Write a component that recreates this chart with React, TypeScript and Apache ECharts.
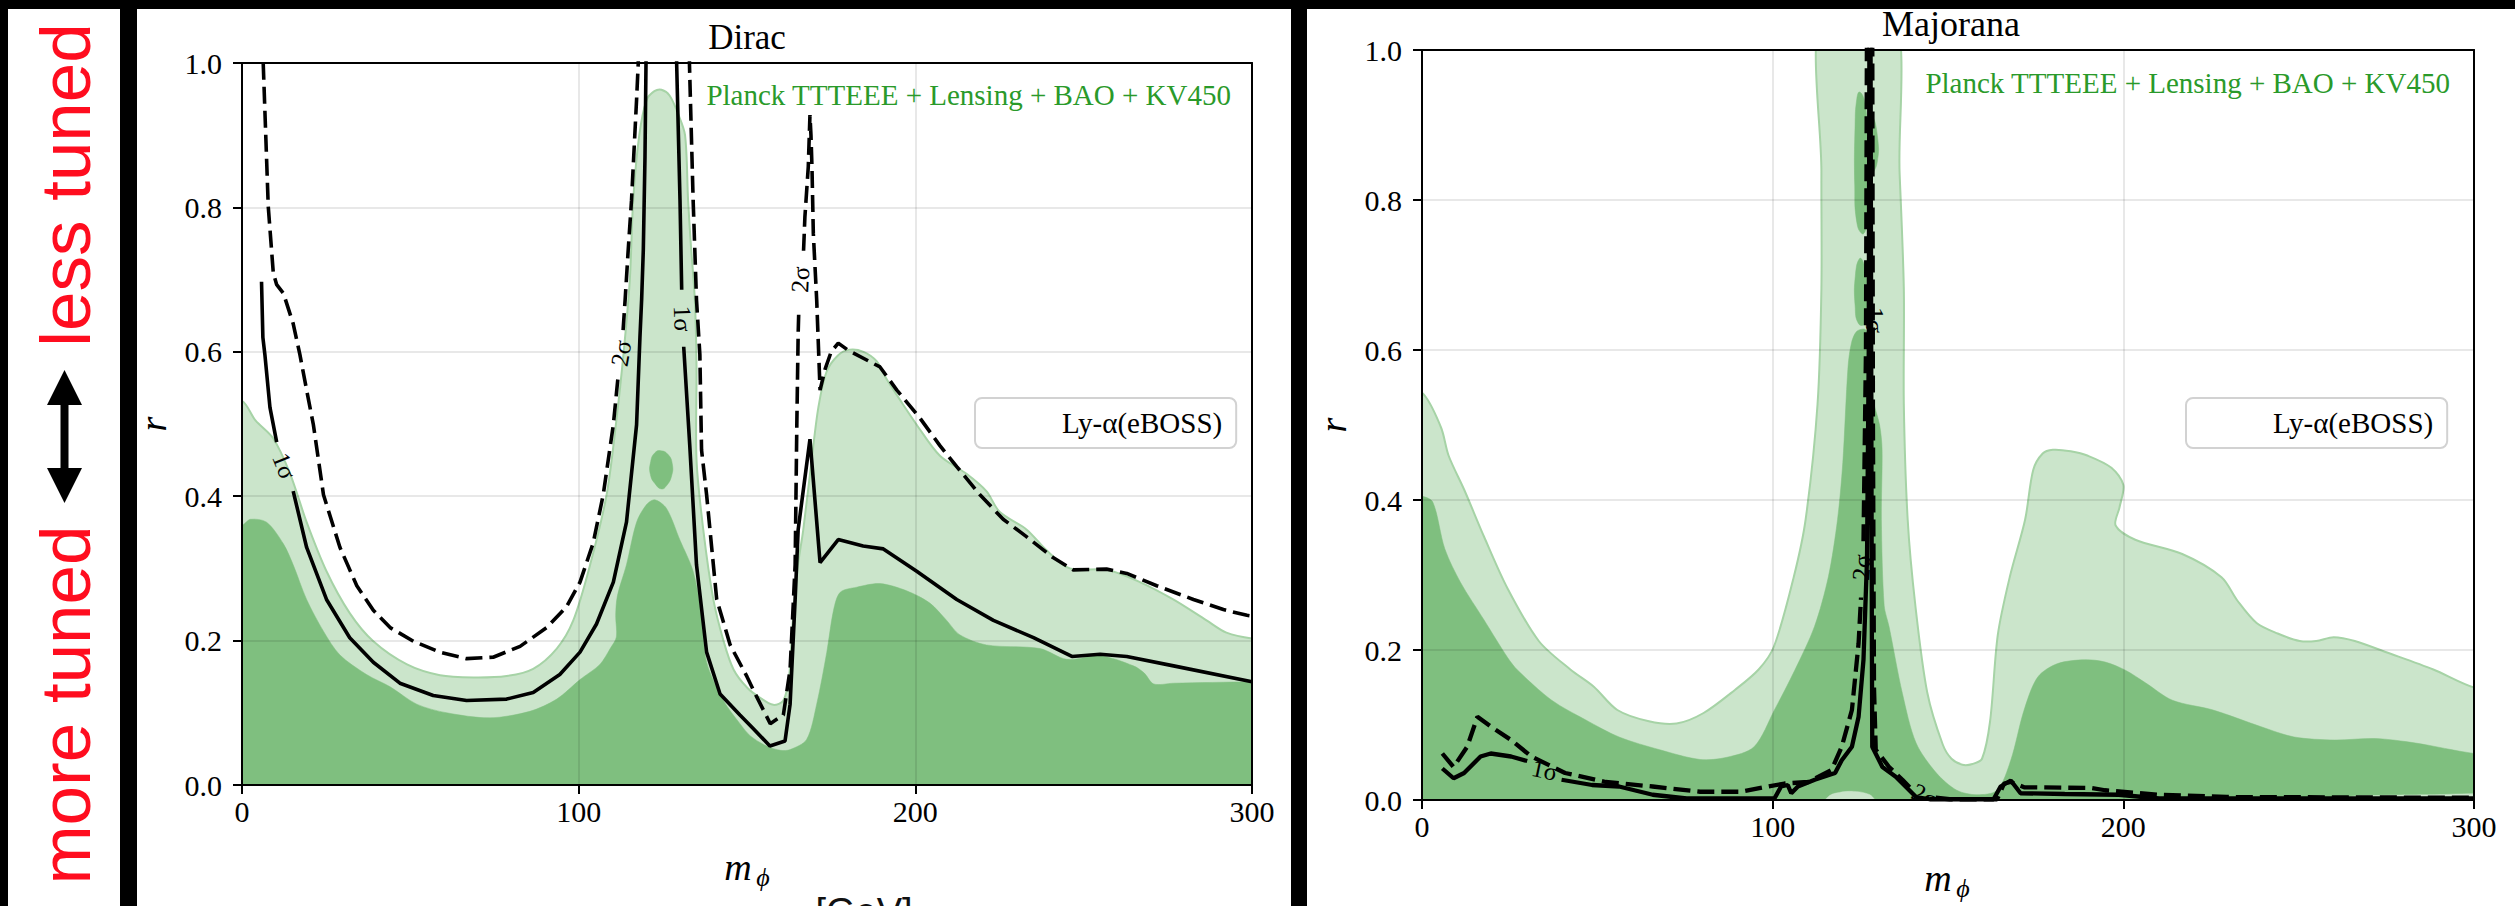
import { useEffect, useRef } from 'react';
import * as echarts from 'echarts';

const SERIF = 'Liberation Serif, DejaVu Serif, serif';
const SANS = 'Liberation Sans, Arial, sans-serif';
const LYA = 'Ly-α(eBOSS)';
const PLANCK = 'Planck TTTEEE + Lensing + BAO + KV450';

type Pt = [number, number];

// axis ranges
const massRange = { min: 0, max: 300, step: 100 };
const ratioRange = { min: 0, max: 1, step: 0.2 };

// ---------- Dirac: Planck contours (upper edges of the filled regions) ----------
const diracPlanck2sEdge: Pt[] = [
  [0, 0.532], [4, 0.505], [9.3, 0.48], [14.3, 0.431], [19.2, 0.364], [25.1, 0.296], [32, 0.238],
  [39, 0.199], [49, 0.167], [58.8, 0.152], [68.7, 0.149], [78.6, 0.151], [86.5, 0.161], [93.5, 0.189],
  [98.4, 0.228], [103.4, 0.305], [108.3, 0.402], [111.3, 0.509], [113.3, 0.596], [115.2, 0.7],
  [116.2, 0.81], [118, 0.9], [120.2, 0.949], [122.5, 0.961], [124.6, 0.963], [127, 0.955],
  [129.5, 0.93], [131.6, 0.9], [132.5, 0.81], [133.3, 0.75], [134.5, 0.672], [135, 0.58],
  [135, 0.451], [137, 0.354], [140, 0.257], [143, 0.2], [146, 0.16], [150, 0.135], [153.8, 0.121],
  [157.8, 0.111], [160.8, 0.117], [162.5, 0.15], [163.5, 0.22], [165, 0.3], [166.7, 0.353],
  [169.2, 0.45], [171.2, 0.523], [173.6, 0.572], [177, 0.595], [180.5, 0.603], [184.6, 0.6],
  [188.5, 0.587], [191.5, 0.562], [195.5, 0.533], [200.4, 0.499], [207.3, 0.456], [215.2, 0.431],
  [221.1, 0.407], [225.1, 0.378], [233, 0.354], [239, 0.325], [245.9, 0.3], [256.8, 0.298],
  [266.7, 0.281], [276.6, 0.257], [286.5, 0.228], [292.4, 0.211], [300, 0.203],
];
const diracPlanck1sEdge: Pt[] = [
  [0, 0.36], [2.5, 0.368], [7.3, 0.364], [12.3, 0.334], [15.2, 0.305], [19.2, 0.257], [24.2, 0.213],
  [29.1, 0.18], [37, 0.153], [44, 0.136], [51.9, 0.112], [60.8, 0.1], [73.7, 0.093], [85.5, 0.102],
  [93.5, 0.119], [100.4, 0.146], [106.3, 0.167], [109.5, 0.19], [111.2, 0.205], [111, 0.235],
  [111.5, 0.262], [114.2, 0.305], [117.2, 0.364], [120.1, 0.388], [122.6, 0.395], [126.1, 0.383],
  [130.1, 0.339], [134, 0.296], [136.5, 0.233], [138, 0.17], [143, 0.117], [147.9, 0.085],
  [151, 0.068], [155.8, 0.054], [160, 0.048], [162.8, 0.049], [167.7, 0.063], [170.7, 0.112],
  [173.7, 0.184], [175.7, 0.242], [177.7, 0.267], [182.6, 0.274], [189.5, 0.279], [197.4, 0.269],
  [204.3, 0.252], [209.3, 0.228], [213.2, 0.208], [221.1, 0.194], [237, 0.189], [245, 0.174],
  [254.9, 0.179], [264.8, 0.165], [268, 0.155], [270.8, 0.14], [276.7, 0.141], [300, 0.143],
];
const diracPlanck1sIsland: Pt[] = [
  [124.4, 0.463], [126.5, 0.458], [127.8, 0.445], [127.6, 0.428], [126, 0.414], [124.6, 0.41],
  [122.9, 0.416], [121.3, 0.43], [121.4, 0.448], [122.6, 0.46],
];

// ---------- Dirac: Ly-α contours (split where the inline labels sit) ----------
const diracLya1s: Pt[][] = [
  [[5.8, 0.697], [6.2, 0.62], [6.8, 0.596], [8.3, 0.523], [10.3, 0.475]],
  [[15.2, 0.407], [19.2, 0.329], [25.1, 0.257], [32, 0.204], [39, 0.17], [46.9, 0.141], [56.8, 0.124],
   [66.7, 0.117], [78.6, 0.119], [86.5, 0.128], [94.4, 0.153], [100.4, 0.184], [105.3, 0.223],
   [110.3, 0.281], [114.2, 0.364], [117.2, 0.499], [118.2, 0.62], [118.7, 0.672], [119.2, 0.741],
   [119.7, 0.87], [120, 1.0], [120.2, 1.1], [129, 1.1], [129.1, 1.0], [130.1, 0.81], [130.6, 0.686]],
  [[131.2, 0.607], [133, 0.47], [135, 0.305], [138, 0.184], [142, 0.126], [147.9, 0.097],
   [151.9, 0.078], [156.8, 0.054], [161.3, 0.061], [162.8, 0.112], [164.3, 0.257], [165.2, 0.354],
   [168.7, 0.479], [171.7, 0.308], [177.1, 0.34], [184.5, 0.331], [190.5, 0.327], [200.4, 0.296],
   [212.3, 0.257], [223.2, 0.228], [235.1, 0.204], [246.5, 0.178], [254.9, 0.181], [262.8, 0.178],
   [276.7, 0.165], [300, 0.143]],
];
const diracLya2s: Pt[][] = [
  [[6.3, 1.1], [6.3, 1.0], [7.8, 0.801], [9.3, 0.709], [10.3, 0.693], [12.3, 0.681], [15.2, 0.639],
   [17.2, 0.596], [19.2, 0.547], [21.2, 0.499], [24.2, 0.402], [29.1, 0.329], [34.1, 0.276],
   [39, 0.242], [44, 0.218], [50.9, 0.199], [58.8, 0.184], [66.7, 0.175], [74.6, 0.177],
   [82.6, 0.192], [90.5, 0.218], [96.4, 0.247], [100.4, 0.281], [104.3, 0.335], [107.3, 0.402],
   [110.3, 0.499], [111.8, 0.57]],
  [[113.2, 0.63], [113.8, 0.672], [114.7, 0.74], [115.7, 0.81], [117.2, 0.949], [117.7, 1.0],
   [117.8, 1.1], [133, 1.1], [132.9, 1.0], [134, 0.81], [135, 0.672], [136, 0.596], [136.5, 0.464],
   [138, 0.402], [141, 0.257], [145, 0.194], [150, 0.15], [152.9, 0.122], [156.9, 0.085],
   [160.8, 0.097], [162.8, 0.16], [164.3, 0.305], [164.8, 0.499], [165.2, 0.626], [165.4, 0.66]],
  [[166.8, 0.74], [167.2, 0.787], [168.2, 0.856], [168.7, 0.928], [169, 0.9], [169.3, 0.856],
   [169.7, 0.764], [170.7, 0.672], [171.7, 0.547], [173.2, 0.576], [175, 0.6], [177.1, 0.612],
   [180.1, 0.602], [189.5, 0.579], [194.5, 0.547], [201.4, 0.508], [207.3, 0.47], [212.3, 0.441],
   [219.2, 0.402], [226.1, 0.368], [233, 0.344], [240.9, 0.315], [246.9, 0.298], [256.8, 0.299],
   [262.8, 0.293], [271.7, 0.276], [282.6, 0.257], [291.5, 0.243], [298.5, 0.235], [300, 0.234]],
];
// [m, r, text, rotation in degrees]
const diracLabels: [number, number, string, number][] = [
  [12.6, 0.442, '1σ', -68],
  [112.6, 0.598, '2σ', 80],
  [130.9, 0.646, '1σ', -88],
  [165.8, 0.70, '2σ', 87],
];

// ---------- Majorana: Planck contours ----------
const majPlanck2sEdge: Pt[] = [
  [0, 0.543], [5.4, 0.497], [7.6, 0.459], [12.1, 0.413], [17.7, 0.351], [24.4, 0.282], [33.3, 0.212],
  [42.3, 0.174], [49, 0.151], [55.7, 0.12], [64.7, 0.105], [72.6, 0.102], [80.3, 0.116], [89.3, 0.147],
  [96, 0.174], [100.4, 0.205], [106, 0.297], [109.4, 0.374], [112.8, 0.528], [113.9, 0.682],
  [113.9, 0.836], [114.3, 1.06], [134.2, 1.06], [136.2, 0.836], [137.4, 0.682], [137.4, 0.528],
  [138.5, 0.374], [140.7, 0.259], [144.1, 0.143], [148.5, 0.074], [151, 0.055], [154.1, 0.047],
  [157, 0.048], [159.7, 0.055], [162, 0.105], [164.2, 0.22], [167.6, 0.297], [172, 0.374],
  [174.3, 0.44], [177, 0.462], [179.9, 0.467], [185, 0.465], [189.9, 0.459], [196.6, 0.443],
  [200, 0.42], [198.9, 0.39], [197.8, 0.366], [203.4, 0.347], [216.8, 0.328], [228, 0.297],
  [232.5, 0.266], [238, 0.236], [244, 0.222], [250.3, 0.212], [255, 0.212], [260, 0.217],
  [266, 0.212], [275, 0.197], [288.4, 0.174], [300, 0.15],
];
const majPlanck1sEdge: Pt[] = [
  [0, 0.405], [3.1, 0.397], [6.5, 0.335], [11, 0.29], [17.7, 0.24], [24.4, 0.19], [27.3, 0.173],
  [37, 0.133], [46.6, 0.107], [56.2, 0.084], [67.8, 0.067], [79.3, 0.054], [87, 0.057], [94.7, 0.071],
  [100.5, 0.12], [106.3, 0.173], [111.9, 0.231], [115.9, 0.298], [118.5, 0.374], [120, 0.45],
  [121.5, 0.578], [122.5, 0.61], [124, 0.625], [126.5, 0.627], [127.8, 0.6], [128.6, 0.535],
  [130.5, 0.5], [131.2, 0.467], [131, 0.374], [131.8, 0.259], [133.2, 0.231], [137, 0.142],
  [140.9, 0.076], [146.7, 0.036], [152.5, 0.013], [158.2, 0.007], [164, 0.013], [167.9, 0.053],
  [171.7, 0.12], [175.6, 0.164], [181.3, 0.182], [189, 0.187], [194.8, 0.184], [200.6, 0.173],
  [206.4, 0.156], [214, 0.133], [225.6, 0.12], [239.1, 0.098], [248.7, 0.084], [260.3, 0.08],
  [271.8, 0.082], [283.3, 0.076], [300, 0.062],
];
const majPlanck1sIslandHigh: Pt[] = [
  [124.8, 0.944], [126.3, 0.93], [127.5, 0.88], [128.5, 0.91], [130, 0.88], [129.8, 0.85],
  [128.3, 0.83], [127.5, 0.79], [126.5, 0.76], [125.5, 0.755], [124, 0.77], [123.4, 0.82],
  [123.5, 0.9], [124, 0.935],
];
const majPlanck1sIslandMid: Pt[] = [
  [124.8, 0.722], [126, 0.715], [127, 0.69], [127.5, 0.65], [126.5, 0.635], [124.5, 0.635],
  [123.5, 0.66], [123.6, 0.7],
];
// pockets of the 2σ-only region that sit on the axis inside the 1σ fill
const majPlanck2sPocketA: Pt[] = [
  [114, -0.01], [116, 0.005], [119, 0.01], [123, 0.0115], [126.5, 0.009], [128.5, 0.004], [130, -0.01],
];
const majPlanck2sPocketB: Pt[] = [
  [261, -0.01], [264, 0.004], [272, 0.006], [288, 0.007], [306, 0.007], [306, -0.01],
];

// ---------- Majorana: Ly-α contours ----------
const majLya1s: Pt[][] = [
  [[5.8, 0.042], [9, 0.029], [12, 0.036], [16.7, 0.058], [19.6, 0.062], [25.4, 0.058], [30, 0.052]],
  [[39.8, 0.027], [48.5, 0.02], [56.2, 0.018], [65.8, 0.007], [75.5, 0.002], [100.5, 0.002],
   [102.4, 0.018], [104.3, 0.02], [105.3, 0.009], [107.2, 0.018], [112, 0.027], [117.8, 0.036],
   [119.7, 0.053], [122.6, 0.071], [124.5, 0.111], [125.9, 0.187], [126.9, 0.32], [127.4, 0.6],
   [127.6, 1.06], [127.9, 1.06], [128.1, 0.6], [128.3, 0.2], [128.4, 0.071], [131.3, 0.044],
   [135.1, 0.031], [140.9, 0.004], [144.8, 0.001], [163, 0.001], [165, 0.018], [167.9, 0.026],
   [170.7, 0.009], [183.3, 0.008], [198.7, 0.007], [210.2, 0.002], [300, 0.002]],
];
const majLya2s: Pt[][] = [
  [[5.8, 0.062], [9, 0.044], [12.9, 0.071], [15.8, 0.111], [19.6, 0.098], [25.4, 0.08], [31.2, 0.058],
   [40.8, 0.036], [52.4, 0.024], [65.8, 0.018], [79.3, 0.011], [90.9, 0.011], [98.6, 0.018],
   [103.4, 0.022], [110.1, 0.024], [116.8, 0.04], [119.7, 0.071], [122.6, 0.12], [124.5, 0.209],
   [125.2, 0.27]],
  [[125.9, 0.345], [126.6, 0.6], [126.9, 1.06], [128.4, 1.06], [128.6, 0.5], [128.9, 0.15],
   [129.4, 0.067], [133.2, 0.044], [137, 0.027], [139.9, 0.013]],
  [[146.5, 0.003], [150.5, 0.001], [164, 0.001], [166, 0.022], [167.9, 0.024], [171.7, 0.017],
   [190.9, 0.016], [194.8, 0.013], [210.2, 0.007], [229.5, 0.004], [300, 0.003]],
];
const majLabels: [number, number, string, number][] = [
  [35, 0.04, '1σ', -12],
  [125.3, 0.31, '2σ', 86],
  [129, 0.64, '1σ', -90],
  [143.5, 0.006, '2σ', -25],
];

// ---------- drawing helpers ----------
const COLORS = {
  dark: '#7fbf7f',
  light: '#cbe5cb',
  lightEdge: '#a6d3a6',
  text: '#2a9a2a',
};

function closeBelow(edge: Pt[]): Pt[] {
  const a = edge[0];
  const b = edge[edge.length - 1];
  return [[-6, a[1]], ...edge, [306, b[1]], [306, -0.2], [-6, -0.2]];
}

function areaSeries(points: Pt[], axis: number, fill: string, z: number, stroke?: string, smooth = 0.3) {
  return {
    type: 'custom',
    xAxisIndex: axis,
    yAxisIndex: axis,
    z,
    clip: true,
    silent: true,
    data: [points[0]],
    renderItem: (_p: any, api: any) => ({
      type: 'polygon',
      shape: { points: points.map((p) => api.coord(p)), smooth },
      style: { fill, stroke: stroke ?? fill, lineWidth: stroke ? 2 : 0.5 },
    }),
  };
}

function lineSeries(seg: Pt[], axis: number, dashed: boolean, width: number) {
  return {
    type: 'line',
    name: LYA,
    xAxisIndex: axis,
    yAxisIndex: axis,
    data: seg,
    z: 5,
    clip: true,
    silent: true,
    symbol: 'none',
    showSymbol: false,
    color: '#000',
    lineStyle: { color: '#000', width, type: dashed ? [17, 7] : 'solid', cap: 'butt' },
  };
}

function labelSeries(labels: [number, number, string, number][], axis: number) {
  return {
    type: 'custom',
    xAxisIndex: axis,
    yAxisIndex: axis,
    z: 6,
    clip: true,
    silent: true,
    data: labels.map((l) => [l[0], l[1]]),
    renderItem: (params: any, api: any) => {
      const l = labels[params.dataIndex];
      const p = api.coord([l[0], l[1]]);
      return {
        type: 'text',
        x: p[0],
        y: p[1],
        rotation: (l[3] * Math.PI) / 180,
        style: {
          text: l[2],
          fill: '#000',
          fontFamily: SERIF,
          fontSize: 25,
          align: 'center',
          verticalAlign: 'middle',
          textAlign: 'center',
          textVerticalAlign: 'middle',
        },
      };
    },
  };
}

const gridLine = { show: true, lineStyle: { color: 'rgba(0,0,0,0.12)', width: 1.5 } };
const spine = { show: true, onZero: false, lineStyle: { color: '#000', width: 2 } };

function xAxes(grid: number) {
  return [
    {
      gridIndex: grid,
      type: 'value',
      min: massRange.min,
      max: massRange.max,
      interval: massRange.step,
      position: 'bottom',
      z: 8,
      axisLine: spine,
      axisTick: { show: true, inside: false, length: 9, lineStyle: { color: '#000', width: 2 } },
      axisLabel: { show: true, margin: 11, fontFamily: SERIF, fontSize: 30, color: '#000', showMinLabel: true, showMaxLabel: true },
      splitLine: gridLine,
    },
    {
      gridIndex: grid,
      type: 'value',
      min: massRange.min,
      max: massRange.max,
      position: 'top',
      z: 8,
      axisLine: spine,
      axisTick: { show: false },
      axisLabel: { show: false },
      splitLine: { show: false },
    },
  ];
}

function yAxes(grid: number) {
  return [
    {
      gridIndex: grid,
      type: 'value',
      min: ratioRange.min,
      max: ratioRange.max,
      interval: ratioRange.step,
      position: 'left',
      z: 8,
      axisLine: spine,
      axisTick: { show: true, inside: false, length: 9, lineStyle: { color: '#000', width: 2 } },
      axisLabel: {
        show: true, margin: 20, fontFamily: SERIF, fontSize: 30, color: '#000',
        formatter: (v: number) => v.toFixed(1), showMinLabel: true, showMaxLabel: true,
      },
      splitLine: gridLine,
      name: 'r',
      nameLocation: 'middle',
      nameGap: 70,
      nameTextStyle: { fontFamily: SERIF, fontStyle: 'italic', fontSize: 38, color: '#000' },
    },
    {
      gridIndex: grid,
      type: 'value',
      min: ratioRange.min,
      max: ratioRange.max,
      position: 'right',
      z: 8,
      axisLine: spine,
      axisTick: { show: false },
      axisLabel: { show: false },
      splitLine: { show: false },
    },
  ];
}

function legendBox(left: number) {
  return {
    data: [{ name: LYA, icon: 'rect' }],
    left,
    top: 398,
    z: 20,
    selectedMode: false,
    itemWidth: 68,
    itemHeight: 14,
    itemStyle: { opacity: 0 },
    lineStyle: { opacity: 0 },
    backgroundColor: '#fff',
    borderColor: '#d2d2d2',
    borderWidth: 2,
    borderRadius: 7,
    padding: [8, 14, 8, 14],
    textStyle: { fontFamily: SERIF, fontSize: 29, color: '#000', lineHeight: 34 },
  };
}

function sideText(text: string, y: number) {
  return {
    type: 'text',
    x: 65,
    y,
    rotation: Math.PI / 2,
    z: 30,
    style: {
      text, fill: '#ff0d1f', fontFamily: SANS, fontSize: 71,
      align: 'center', verticalAlign: 'middle', textAlign: 'center', textVerticalAlign: 'middle',
    },
  };
}

function plainText(
  text: string, x: number, y: number, size: number, fill: string, align: string,
  family = SERIF, vAlign = 'middle', italic = false,
) {
  return {
    type: 'text',
    x,
    y,
    z: 30,
    style: {
      text, fill, fontFamily: family, fontSize: size, fontStyle: italic ? 'italic' : 'normal',
      align, verticalAlign: vAlign, textAlign: align, textVerticalAlign: vAlign,
    },
  };
}

// x-axis title m with subscript ϕ
function massTitle(x: number, y: number) {
  return [
    plainText('m', x, y, 38, '#000', 'center', SERIF, 'middle', true),
    plainText('ϕ', x + 25, y + 10, 26, '#000', 'center', SERIF, 'middle', true),
  ];
}

export default function App() {
  const ref = useRef<HTMLDivElement>(null);

  useEffect(() => {
    if (!ref.current) return;
    const chart = echarts.init(ref.current, undefined, { renderer: 'svg' });

    const series: any[] = [
      // Dirac
      areaSeries(closeBelow(diracPlanck2sEdge), 0, COLORS.light, 2, COLORS.lightEdge),
      areaSeries(closeBelow(diracPlanck1sEdge), 0, COLORS.dark, 3),
      areaSeries(diracPlanck1sIsland, 0, COLORS.dark, 3, undefined, 0.5),
      ...diracLya1s.map((s) => lineSeries(s, 0, false, 3.6)),
      ...diracLya2s.map((s) => lineSeries(s, 0, true, 3.6)),
      labelSeries(diracLabels, 0),
      // Majorana
      areaSeries(closeBelow(majPlanck2sEdge), 2, COLORS.light, 2, COLORS.lightEdge),
      areaSeries(closeBelow(majPlanck1sEdge), 2, COLORS.dark, 3),
      areaSeries(majPlanck1sIslandHigh, 2, COLORS.dark, 3, undefined, 0.5),
      areaSeries(majPlanck1sIslandMid, 2, COLORS.dark, 3, undefined, 0.5),
      areaSeries(majPlanck2sPocketA, 2, COLORS.light, 4, undefined, 0.4),
      areaSeries(majPlanck2sPocketB, 2, COLORS.light, 4, undefined, 0.2),
      ...majLya1s.map((s) => lineSeries(s, 2, false, 4.3)),
      ...majLya2s.map((s) => lineSeries(s, 2, true, 4.3)),
      labelSeries(majLabels, 2),
    ];

    chart.setOption({
      animation: false,
      backgroundColor: '#000',
      grid: [
        { left: 242, top: 63, width: 1010, height: 722 },
        { left: 1422, top: 50, width: 1052, height: 750 },
      ],
      xAxis: [...xAxes(0), ...xAxes(1)],
      yAxis: [...yAxes(0), ...yAxes(1)],
      legend: [legendBox(975), legendBox(2186)],
      series,
      graphic: {
        elements: [
          { type: 'rect', z: 0, shape: { x: 8, y: 9, width: 112, height: 897 }, style: { fill: '#fff' } },
          { type: 'rect', z: 0, shape: { x: 137, y: 9, width: 1154, height: 897 }, style: { fill: '#fff' } },
          { type: 'rect', z: 0, shape: { x: 1307, y: 9, width: 1208, height: 897 }, style: { fill: '#fff' } },
          sideText('less tuned', 185),
          sideText('more tuned', 705),
          {
            type: 'polygon',
            z: 30,
            shape: {
              points: [[64.5, 370], [82, 405], [68.5, 405], [68.5, 468], [82, 468], [64.5, 503],
                [47, 468], [60.5, 468], [60.5, 405], [47, 405]],
            },
            style: { fill: '#000' },
          },
          plainText('Dirac', 747, 37, 35, '#000', 'center'),
          plainText('Majorana', 1951, 24, 36, '#000', 'center'),
          plainText(PLANCK, 1231, 95, 29, COLORS.text, 'right'),
          plainText(PLANCK, 2450, 83, 29, COLORS.text, 'right'),
          ...massTitle(738, 867),
          ...massTitle(1938, 878),
          plainText('[GeV]', 864, 893, 38, '#111', 'center', SANS, 'top'),
        ],
      },
    });

    return () => chart.dispose();
  }, []);

  return (
    <div
      ref={ref}
      style={{ position: 'fixed', left: 0, top: 0, width: 2515, height: 906 }}
    />
  );
}
